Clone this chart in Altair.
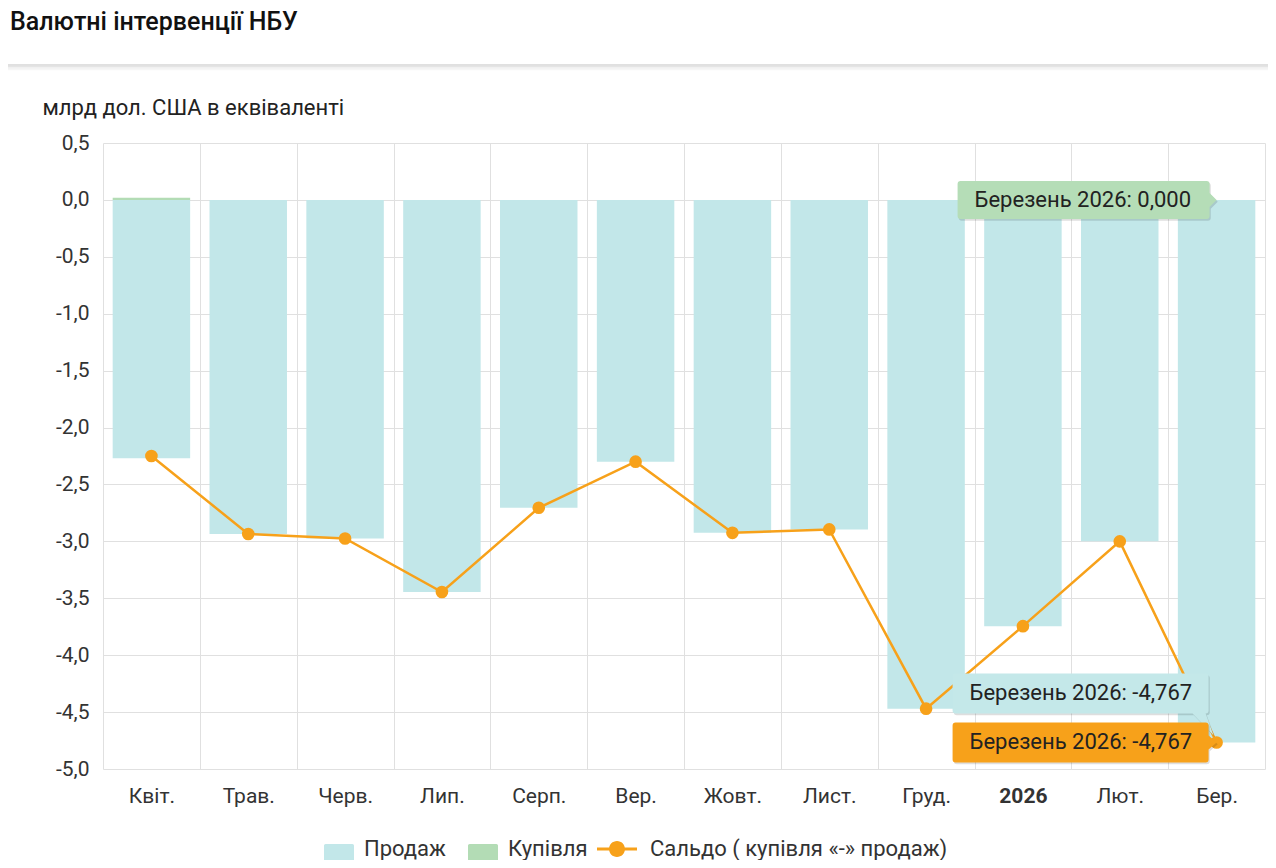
import altair as alt
import pandas as pd

months = ['Квіт.', 'Трав.', 'Черв.', 'Лип.', 'Серп.', 'Вер.', 'Жовт.', 'Лист.', 'Груд.', '2026', 'Лют.', 'Бер.']
sale = [-2.27, -2.935, -2.975, -3.445, -2.705, -2.30, -2.925, -2.895, -4.47, -3.745, -3.00, -4.767]
purchase = [0.02, 0.0, 0.0, 0.0, 0.0, 0.0, 0.0, 0.0, 0.0, 0.0, 0.0, 0.0]
saldo = [-2.25, -2.935, -2.975, -3.445, -2.705, -2.30, -2.925, -2.895, -4.47, -3.745, -3.00, -4.767]
series_names = ['Продаж', 'Купівля', 'Сальдо ( купівля «-» продаж)']
tip_period = 'Березень 2026'
y_ticks = [-5.0, -4.5, -4.0, -3.5, -3.0, -2.5, -2.0, -1.5, -1.0, -0.5, 0.0, 0.5]

C_SALE = '#c2e7e9'
C_BUY = '#b3dcb5'
C_LINE = '#f7a11a'
FONT = 'Roboto'

df = pd.DataFrame({'month': months, 'sale': sale, 'purchase': purchase, 'saldo': saldo})

xenc = alt.X('month:N', sort=months,
             scale=alt.Scale(domain=months, paddingInner=0, paddingOuter=0),
             axis=alt.Axis(title=None, grid=True, tickBand='extent', ticks=False, domain=False,
                           labelAngle=0, labelFontSize=21, labelColor='#333', labelFont=FONT,
                           labelPadding=16, gridColor='#e0e0e0',
                           labelFontWeight=alt.expr("datum.value == '2026' ? 'bold' : 'normal'")))
yenc_axis = alt.Axis(title='млрд дол. США в еквіваленті', titleAngle=0, titleAlign='left',
                     titleBaseline='middle', titleX=-61, titleY=-36, titleFontSize=22,
                     titleFontWeight='normal', titleColor='#222', titleFont=FONT,
                     values=y_ticks, grid=True, gridColor='#e0e0e0', domain=False, ticks=False,
                     labelFontSize=21, labelColor='#333', labelFont=FONT, labelPadding=14,
                     labelExpr="replace(replace(format(datum.value, '.1f'), '.', ','), '\u2212', '-')")
yscale = alt.Scale(domain=[-5.0, 0.5], nice=False, zero=False)

BAR_W = alt.RelativeBandSize(0.8)
base = alt.Chart(df)
bars_sale = base.mark_bar(color=C_SALE, width=BAR_W).encode(
    x=xenc, y=alt.Y('sale:Q', scale=yscale, axis=yenc_axis))
bars_buy = base.mark_bar(color=C_BUY, width=BAR_W).encode(
    x=alt.X('month:N', sort=months), y=alt.Y('purchase:Q'))
line = base.mark_line(color=C_LINE, strokeWidth=2.5).encode(
    x=alt.X('month:N', sort=months), y='saldo:Q')
pts = base.mark_circle(color=C_LINE, size=160, opacity=1).encode(
    x=alt.X('month:N', sort=months), y='saldo:Q')


def box_path(x0, x1, y0, y1, r, arrow=None, tail=None, ox=0.0, oy=0.0):
    def p(x, y):
        return f'{x + ox:.3f},{y + oy:.3f}'
    s = f'M{p(x0 + r, y0)} L{p(x1 - r, y0)} Q{p(x1, y0)} {p(x1, y0 + r)} '
    if arrow:
        ay0, tipx, tipy, ay1 = arrow
        s += f'L{p(x1, ay0)} L{p(tipx, tipy)} L{p(x1, ay1)} '
    s += f'L{p(x1, y1 - r)} Q{p(x1, y1)} {p(x1 - r, y1)} '
    if tail:
        tx0, tipx, tipy, tx1 = tail
        s += f'L{p(tx1, y1)} L{p(tipx, tipy)} L{p(tx0, y1)} '
    s += f'L{p(x0 + r, y1)} Q{p(x0, y1)} {p(x0, y1 - r)} L{p(x0, y0 + r)} Q{p(x0, y0)} {p(x0 + r, y0)} Z'
    return s


def fmt(v):
    return f'{v:.3f}'.replace('.', ',')


last = months[-1]
tips = [
    (sale[-1], '#c4e8e9', dict(x0=-2.64, x1=-0.08, y0=-0.69, y1=-0.29, r=0.03, tail=(-0.24, -0.03, -0.07, -0.11)), -247, -49),
    (saldo[-1], C_LINE, dict(x0=-2.64, x1=-0.08, y0=-0.20, y1=0.20, r=0.03, arrow=(-0.07, 0.0, 0.0, 0.07)), -247, 0),
    (purchase[-1], '#b5ddb7', dict(x0=-2.59, x1=-0.07, y0=-0.19, y1=0.19, r=0.03, arrow=(-0.07, 0.0, 0.0, 0.07)), -242, 0),
]

tip_layers = []
for val, fill, bargs, tdx, tdy in tips:
    tdf = pd.DataFrame({'month': [last], 'v': [val], 'label': [f'{tip_period}: {fmt(val)}']})
    tb = alt.Chart(tdf).encode(x=alt.X('month:N', sort=months), y='v:Q')
    shadow = tb.mark_point(shape=box_path(ox=0.012, oy=0.018, **bargs), size=40000, filled=True,
                           fill='#000000', opacity=0.13, strokeWidth=0)
    box = tb.mark_point(shape=box_path(**bargs), size=40000, filled=True, fill=fill,
                        opacity=1, strokeWidth=0)
    txt = tb.mark_text(align='left', baseline='middle', dx=tdx, dy=tdy, font=FONT, fontSize=22,
                       color='#222').encode(text='label:N')
    tip_layers += [shadow, box, txt]

# identical invisible bounds for every legend symbol so entries align uniformly
BOUNDS = 'M-1.6,-0.8 L-1.6,-0.8 M1.0,1.6 L1.0,1.6 '
sq = BOUNDS + box_path(-0.75, 0.75, -0.25, 1.6, 0.08)
ln = (BOUNDS + 'M-1.4,-0.075 L0.6,-0.075 L0.6,0.075 L-1.4,0.075 Z '
      'M0.0,0 A0.4,0.4 0 1,1 -0.8,0 A0.4,0.4 0 1,1 0.0,0 Z')
leg_df = pd.DataFrame({'series': series_names})
leg_props = dict(title=None, orient='none', legendX=216, legendY=686, direction='horizontal',
                 symbolSize=1600, symbolStrokeWidth=0, symbolOpacity=1, labelFontSize=22,
                 labelFont=FONT, labelColor='#333', labelOffset=5, columnPadding=5, padding=0,
                 labelLimit=600)
legend_layer = alt.Chart(leg_df).mark_point(filled=True).encode(
    color=alt.Color('series:N', scale=alt.Scale(domain=series_names, range=[C_SALE, C_BUY, C_LINE]),
                    legend=alt.Legend(**leg_props)),
    shape=alt.Shape('series:N', scale=alt.Scale(domain=series_names, range=[sq, sq, ln]),
                    legend=alt.Legend(**leg_props)),
).transform_filter("datum.series == 'none'")

sep_df = pd.DataFrame({'a': [0]})
sep_layers = []
for yy, col, w in [(-78, '#d6d6d6', 1.5), (-76.5, '#e4e4e4', 1.5), (-75, '#eeeeee', 1.5), (-73.5, '#f6f6f6', 1.5)]:
    sep_layers.append(alt.Chart(sep_df).mark_rule(color=col, strokeWidth=w).encode(
        x=alt.value(-95), x2=alt.value(1165), y=alt.value(yy)))

chart = alt.layer(
    bars_sale, bars_buy, line, pts, *tip_layers, legend_layer, *sep_layers
).resolve_scale(color='independent', shape='independent').properties(
    width=1162, height=626,
    autosize=alt.AutoSizeParams(type='none'),
    padding={'left': 95, 'top': 135, 'right': 3, 'bottom': 91},
    title=alt.TitleParams('Валютні інтервенції НБУ', anchor='start', frame='group', dx=-93,
                          fontSize=25, fontWeight=500, font=FONT, color='#111', offset=4,
                          baseline='bottom'),
).configure(font=FONT).configure_view(strokeWidth=0)

chart.save('out.html', embed_options={'renderer': 'svg', 'actions': False})
